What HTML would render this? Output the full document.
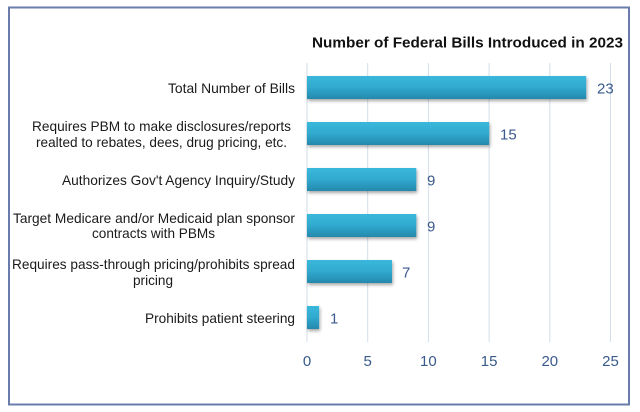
<!DOCTYPE html>
<html>
<head>
<meta charset="utf-8">
<style>
html,body{margin:0;padding:0;background:#fff;}
svg{display:block;}
text{font-family:"Liberation Sans",Arial,sans-serif;}
</style>
</head>
<body>
<svg width="640" height="412" viewBox="0 0 640 412" xmlns="http://www.w3.org/2000/svg">
<defs>
<linearGradient id="g" x1="0" y1="0" x2="0" y2="1">
<stop offset="0" stop-color="#3ab8dc"/>
<stop offset="0.5" stop-color="#31a9cf"/>
<stop offset="1" stop-color="#2589ac"/>
</linearGradient>
<filter id="sh" x="-5%" y="-30%" width="115%" height="180%">
<feDropShadow dx="1" dy="2" stdDeviation="1.5" flood-color="#000" flood-opacity="0.35"/>
</filter>
</defs>
<rect x="0" y="0" width="640" height="412" fill="#fff"/>
<rect x="9" y="7.5" width="620" height="397" fill="none" stroke="#6a7cab" stroke-width="2"/>

<text x="312" y="47.3" font-size="14.5" font-weight="bold" fill="#111" textLength="311" lengthAdjust="spacingAndGlyphs">Number of Federal Bills Introduced in 2023</text>

<g stroke="#d3deea" stroke-width="1">
<line x1="307" y1="63" x2="307" y2="342"/>
<line x1="367.7" y1="63" x2="367.7" y2="342"/>
<line x1="428.4" y1="63" x2="428.4" y2="342"/>
<line x1="489.1" y1="63" x2="489.1" y2="342"/>
<line x1="549.8" y1="63" x2="549.8" y2="342"/>
<line x1="610.5" y1="63" x2="610.5" y2="342"/>
</g>

<g fill="url(#g)" filter="url(#sh)">
<rect x="307" y="76" width="279.2" height="23"/>
<rect x="307" y="122" width="182.1" height="23"/>
<rect x="307" y="168" width="109.3" height="23"/>
<rect x="307" y="214" width="109.3" height="23"/>
<rect x="307" y="260" width="85" height="23"/>
<rect x="307" y="306" width="12.1" height="23"/>
</g>

<g font-size="15" fill="#3a5a8c">
<text x="597" y="93.3">23</text>
<text x="500" y="139.3">15</text>
<text x="427" y="185.3">9</text>
<text x="427" y="231.3">9</text>
<text x="402" y="277.3">7</text>
<text x="330" y="323.3">1</text>
</g>

<g font-size="15" fill="#3a5a8c" text-anchor="middle">
<text x="307" y="366">0</text>
<text x="367.7" y="366">5</text>
<text x="428.4" y="366">10</text>
<text x="489.1" y="366">15</text>
<text x="549.8" y="366">20</text>
<text x="610.5" y="366">25</text>
</g>

<g font-size="13.6" fill="#1a1a1a">
<text x="168" y="93" textLength="127" lengthAdjust="spacingAndGlyphs">Total Number of Bills</text>
<text x="32" y="131" textLength="259" lengthAdjust="spacingAndGlyphs">Requires PBM to make disclosures/reports</text>
<text x="36" y="147" textLength="251" lengthAdjust="spacingAndGlyphs">realted to rebates, dees, drug pricing, etc.</text>
<text x="62" y="185" textLength="233" lengthAdjust="spacingAndGlyphs">Authorizes Gov't Agency Inquiry/Study</text>
<text x="13" y="223" textLength="282" lengthAdjust="spacingAndGlyphs">Target Medicare and/or Medicaid plan sponsor</text>
<text x="92" y="238" textLength="123" lengthAdjust="spacingAndGlyphs">contracts with PBMs</text>
<text x="12" y="269" textLength="283" lengthAdjust="spacingAndGlyphs">Requires pass-through pricing/prohibits spread</text>
<text x="133" y="285" textLength="40" lengthAdjust="spacingAndGlyphs">pricing</text>
<text x="145" y="323" textLength="150" lengthAdjust="spacingAndGlyphs">Prohibits patient steering</text>
</g>
</svg>
</body>
</html>
